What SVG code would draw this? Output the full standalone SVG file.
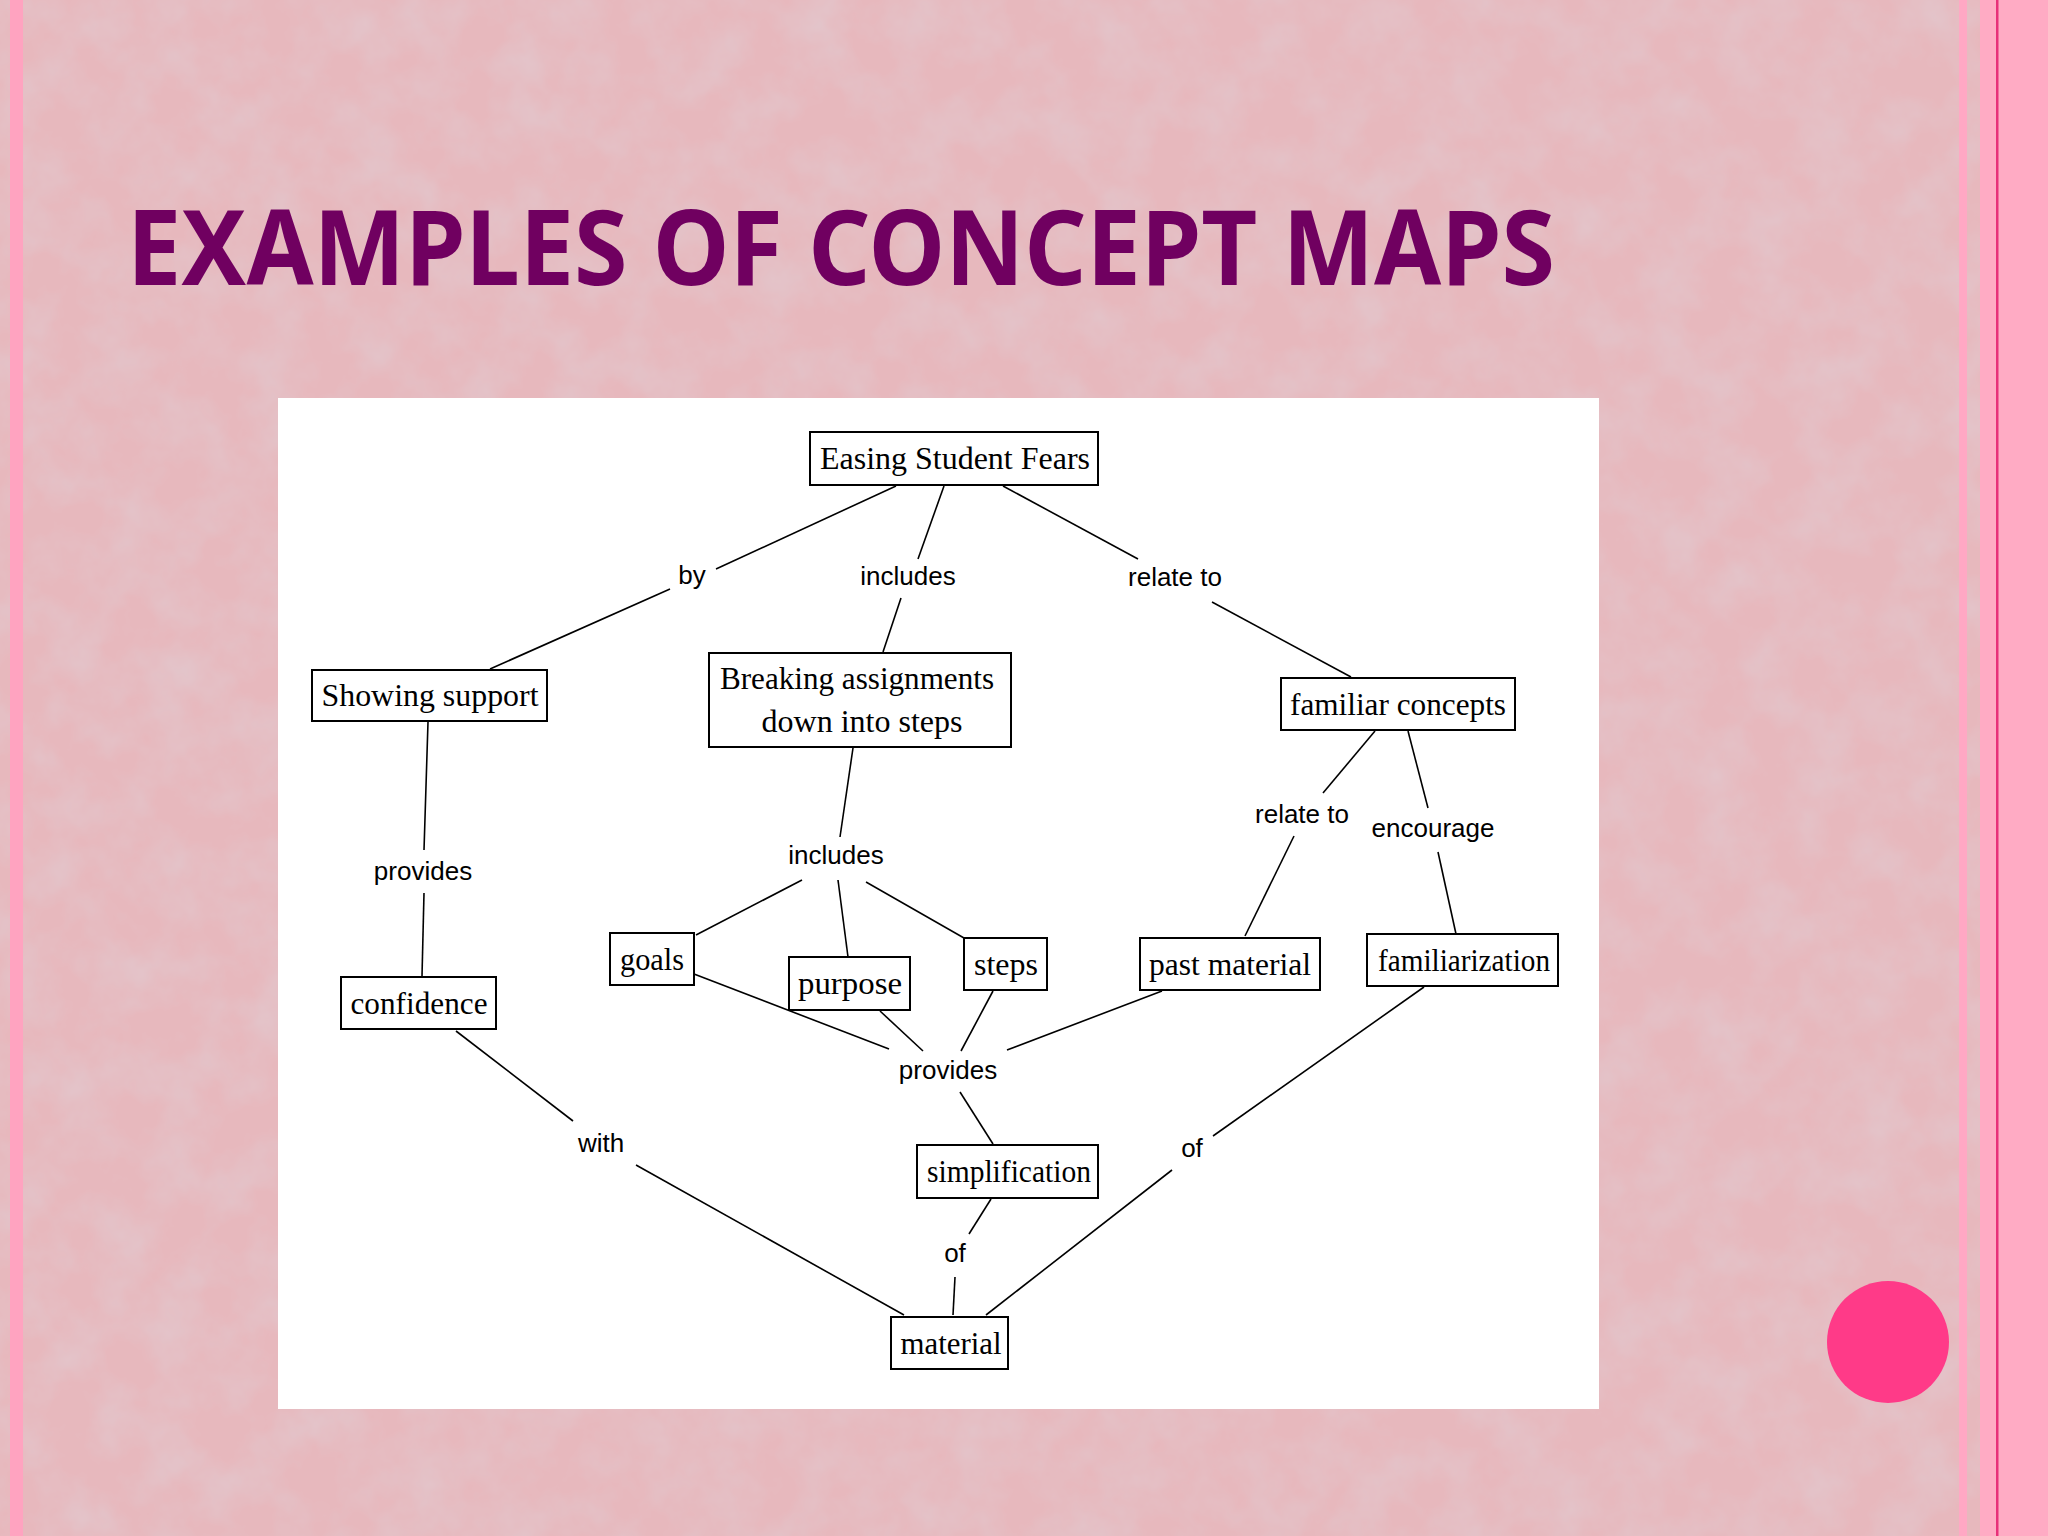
<svg xmlns="http://www.w3.org/2000/svg" width="2048" height="1536" viewBox="0 0 2048 1536">
<defs>
<filter id="tex" x="0" y="0" width="100%" height="100%">
<feTurbulence type="fractalNoise" baseFrequency="0.02" numOctaves="4" seed="7"/>
<feColorMatrix type="matrix" values="0 0 0 0 0.76  0 0 0 0 0.58  0 0 0 0 0.62  1.3 0 0 0 -0.45"/>
</filter>
<style>
.node rect{fill:#ffffff;stroke:#000000;stroke-width:2}
.node text{font-family:"Liberation Serif","Times New Roman",serif;font-size:32px;fill:#000;text-anchor:middle}
.lbl{font-family:"Liberation Sans",Arial,sans-serif;font-size:26px;fill:#000;text-anchor:middle}
#connectors line{stroke:#000;stroke-width:1.6}
</style>
</defs>
<rect x="0" y="0" width="2048" height="1536" fill="#E7B8BD"/>
<rect x="0" y="0" width="2048" height="1536" filter="url(#tex)"/>
<rect x="10" y="0" width="13" height="1536" fill="#FFA3C0"/>
<rect x="1959" y="0" width="8" height="1536" fill="#FFA8C4"/>
<rect x="1980" y="0" width="68" height="1536" fill="#FFABC4"/>
<rect x="1996" y="0" width="2.5" height="1536" fill="#E8307A"/>
<circle cx="1888" cy="1342" r="61" fill="#FF3A88"/>
<text x="127" y="285" font-family="'Noto Sans','Open Sans',sans-serif" font-weight="bold" font-size="104" fill="#700060" textLength="1428" lengthAdjust="spacingAndGlyphs">EXAMPLES OF CONCEPT MAPS</text>
<rect x="278" y="398" width="1321" height="1011" fill="#ffffff"/>
<g id="connectors">
<line x1="896" y1="486" x2="716" y2="569"/>
<line x1="670" y1="589" x2="490" y2="669"/>
<line x1="944" y1="486" x2="918" y2="559"/>
<line x1="901" y1="598" x2="883" y2="652"/>
<line x1="1003" y1="486" x2="1138" y2="559"/>
<line x1="1212" y1="602" x2="1351" y2="677"/>
<line x1="428" y1="722" x2="424" y2="850"/>
<line x1="424" y1="893" x2="422" y2="976"/>
<line x1="853" y1="748" x2="840" y2="837"/>
<line x1="802" y1="880" x2="696" y2="935"/>
<line x1="838" y1="880" x2="848" y2="957"/>
<line x1="866" y1="882" x2="964" y2="938"/>
<line x1="1375" y1="731" x2="1323" y2="793"/>
<line x1="1294" y1="836" x2="1245" y2="936"/>
<line x1="1408" y1="731" x2="1428" y2="808"/>
<line x1="1438" y1="852" x2="1456" y2="934"/>
<line x1="694" y1="974" x2="889" y2="1049"/>
<line x1="880" y1="1011" x2="923" y2="1051"/>
<line x1="993" y1="991" x2="961" y2="1051"/>
<line x1="1162" y1="991" x2="1007" y2="1050"/>
<line x1="960" y1="1092" x2="993" y2="1144"/>
<line x1="456" y1="1031" x2="573" y2="1121"/>
<line x1="636" y1="1165" x2="904" y2="1315"/>
<line x1="991" y1="1199" x2="969" y2="1234"/>
<line x1="955" y1="1277" x2="953" y2="1315"/>
<line x1="1424" y1="987" x2="1213" y2="1136"/>
<line x1="1172" y1="1170" x2="986" y2="1315"/>
<text class="lbl" x="692" y="584">by</text>
<text class="lbl" x="908" y="585">includes</text>
<text class="lbl" x="1175" y="586">relate to</text>
<text class="lbl" x="423" y="880">provides</text>
<text class="lbl" x="836" y="864">includes</text>
<text class="lbl" x="1302" y="823">relate to</text>
<text class="lbl" x="1433" y="837">encourage</text>
<text class="lbl" x="948" y="1079">provides</text>
<text class="lbl" x="601" y="1152">with</text>
<text class="lbl" x="955" y="1262">of</text>
<text class="lbl" x="1192" y="1157">of</text>
</g>
<g id="n-easing" class="node"><rect x="810" y="432" width="288" height="53"/><text x="955" y="469" textLength="270" lengthAdjust="spacingAndGlyphs">Easing Student Fears</text></g>
<g id="n-showing" class="node"><rect x="312" y="670" width="235" height="51"/><text x="430" y="706" textLength="217" lengthAdjust="spacingAndGlyphs">Showing support</text></g>
<g id="n-breaking" class="node"><rect x="709" y="653" width="302" height="94"/><text x="857" y="689" textLength="274" lengthAdjust="spacingAndGlyphs">Breaking assignments</text><text x="862" y="732" textLength="201" lengthAdjust="spacingAndGlyphs">down into steps</text></g>
<g id="n-familiar" class="node"><rect x="1281" y="678" width="234" height="52"/><text x="1398" y="715" textLength="216" lengthAdjust="spacingAndGlyphs">familiar concepts</text></g>
<g id="n-confidence" class="node"><rect x="341" y="977" width="155" height="52"/><text x="419" y="1014" textLength="137" lengthAdjust="spacingAndGlyphs">confidence</text></g>
<g id="n-goals" class="node"><rect x="610" y="933" width="84" height="52"/><text x="652" y="970" textLength="64" lengthAdjust="spacingAndGlyphs">goals</text></g>
<g id="n-purpose" class="node"><rect x="789" y="957" width="121" height="53"/><text x="850" y="994" textLength="104" lengthAdjust="spacingAndGlyphs">purpose</text></g>
<g id="n-steps" class="node"><rect x="964" y="938" width="83" height="52"/><text x="1006" y="975" textLength="64" lengthAdjust="spacingAndGlyphs">steps</text></g>
<g id="n-past" class="node"><rect x="1140" y="938" width="180" height="52"/><text x="1230" y="975" textLength="162" lengthAdjust="spacingAndGlyphs">past material</text></g>
<g id="n-familiarization" class="node"><rect x="1367" y="934" width="191" height="52"/><text x="1464" y="971" textLength="172" lengthAdjust="spacingAndGlyphs">familiarization</text></g>
<g id="n-simplification" class="node"><rect x="917" y="1145" width="181" height="53"/><text x="1009" y="1182" textLength="164" lengthAdjust="spacingAndGlyphs">simplification</text></g>
<g id="n-material" class="node"><rect x="891" y="1317" width="117" height="52"/><text x="951" y="1354" textLength="101" lengthAdjust="spacingAndGlyphs">material</text></g>
</svg>
